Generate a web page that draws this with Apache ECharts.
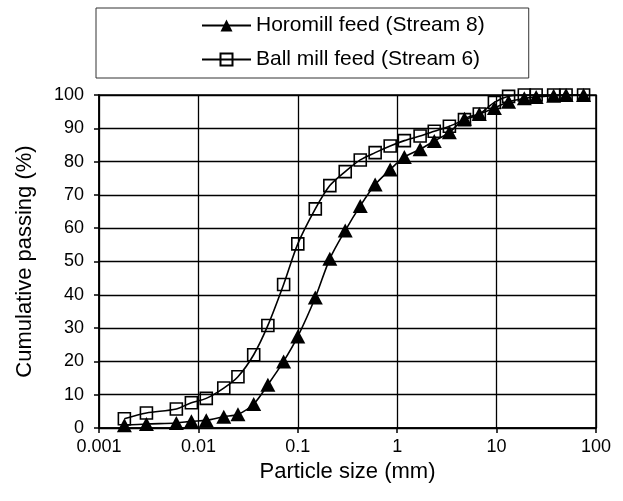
<!DOCTYPE html>
<html>
<head>
<meta charset="utf-8">
<script src="https://cdn.jsdelivr.net/npm/echarts@6/dist/echarts.min.js"></script>
<style>html,body{margin:0;padding:0;background:#fff}#c{width:623px;height:501px}</style>
</head>
<body>
<div id="c"></div>
<script>
const sizes = [0.0018, 0.003, 0.006, 0.0085, 0.012, 0.018, 0.025, 0.036, 0.05, 0.072, 0.1, 0.15, 0.21, 0.3, 0.425, 0.6, 0.85, 1.18, 1.7, 2.36, 3.35, 4.75, 6.7, 9.5, 13.2, 19, 25, 37.5, 50, 75];
const horomill = [0.8, 1.2, 1.5, 2.0, 2.3, 3.4, 4.1, 7.2, 13.0, 20.0, 27.5, 39.2, 50.8, 59.3, 66.7, 73.1, 77.6, 81.4, 83.7, 86.2, 88.8, 92.9, 94.3, 96.1, 98.0, 99.0, 99.4, 99.8, 100, 100];
const ballmill = [2.8, 4.5, 5.7, 7.6, 8.9, 12.0, 15.4, 22.0, 30.8, 43.1, 55.3, 65.8, 72.8, 77.0, 80.5, 82.7, 84.7, 86.3, 87.7, 89.1, 90.6, 92.6, 94.3, 97.8, 99.6, 100, 100, 100, 100, 100];
const xTickLabels = ['0.001', '0.01', '0.1', '1', '10', '100'];
const yTickLabels = ['0', '10', '20', '30', '40', '50', '60', '70', '80', '90', '100'];
const seriesNames = ['Horomill feed (Stream 8)', 'Ball mill feed (Stream 6)'];

const FONT = 'Liberation Sans, Arial, sans-serif';
const chart = echarts.init(document.getElementById('c'), null, {renderer: 'canvas'});
function pair(xs, ys) { return xs.map((x, i) => [x, ys[i]]); }
chart.setOption({
  animation: false,
  backgroundColor: '#fff',
  textStyle: {fontFamily: FONT, color: '#000'},
  grid: {left: 99, right: 27, top: 95, bottom: 73, show: true, borderColor: '#000', borderWidth: 1.5, backgroundColor: 'transparent'},
  legend: {
    orient: 'vertical', left: 96, top: 8,
    padding: [7, 44, 8, 105],
    itemWidth: 49, itemHeight: 15, itemGap: 13,
    borderColor: '#333', borderWidth: 1,
    textStyle: {fontFamily: FONT, fontSize: 21, color: '#000'},
    data: seriesNames
  },
  xAxis: {
    type: 'log', logBase: 10, min: 0.001, max: 100,
    name: 'Particle size (mm)', nameLocation: 'middle', nameGap: 28,
    nameTextStyle: {fontFamily: FONT, fontSize: 22, color: '#000'},
    axisLine: {show: true, onZero: false, lineStyle: {color: '#000', width: 1.5}},
    axisTick: {show: true, inside: false, length: 5, lineStyle: {color: '#000', width: 1.5}},
    minorTick: {show: false},
    axisLabel: {fontFamily: FONT, fontSize: 18, color: '#000', margin: 10,
      formatter: v => xTickLabels[Math.round(Math.log10(v)) + 3]},
    splitLine: {show: true, lineStyle: {color: '#000', width: 1.3}}
  },
  yAxis: {
    type: 'value', min: 0, max: 100, interval: 10,
    name: 'Cumulative passing (%)', nameLocation: 'middle', nameGap: 63, nameRotate: 90,
    nameTextStyle: {fontFamily: FONT, fontSize: 22, color: '#000'},
    axisLine: {show: true, lineStyle: {color: '#000', width: 1.5}},
    axisTick: {show: true, inside: false, length: 5, lineStyle: {color: '#000', width: 1.5}},
    axisLabel: {fontFamily: FONT, fontSize: 18, color: '#000', margin: 15,
      formatter: v => yTickLabels[Math.round(v / 10)]},
    splitLine: {show: true, lineStyle: {color: '#000', width: 1.3}}
  },
  series: [
    {
      name: seriesNames[0], type: 'line', data: pair(sizes, horomill), smooth: 0.3,
      symbol: 'triangle', symbolSize: [15, 14],
      lineStyle: {color: '#000', width: 1.6},
      itemStyle: {color: '#000', borderColor: '#000', borderWidth: 0}
    },
    {
      name: seriesNames[1], type: 'line', data: pair(sizes, ballmill), smooth: 0.3,
      symbol: 'rect', symbolSize: 12,
      lineStyle: {color: '#000', width: 1.6},
      itemStyle: {color: 'rgba(255,255,255,0)', borderColor: '#000', borderWidth: 1.6}
    }
  ]
});
</script>
</body>
</html>
